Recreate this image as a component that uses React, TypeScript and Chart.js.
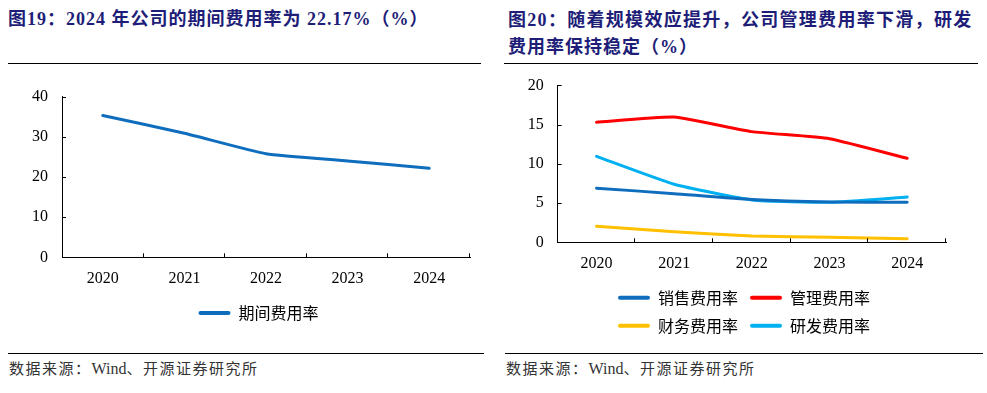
import React, { useEffect, useRef } from 'react';
import { Chart, registerables } from 'chart.js';

Chart.register(...registerables);

// ---------- data ----------
const years = ['2020', '2021', '2022', '2023', '2024'];
const periodExpenseRate = [35.3, 30.9, 25.8, 24.0, 22.17];
const salesExpenseRate = [6.9, 6.2, 5.45, 5.13, 5.1];
const adminExpenseRate = [15.3, 15.96, 14.1, 13.2, 10.7];
const financeExpenseRate = [2.04, 1.35, 0.8, 0.63, 0.46];
const rdExpenseRate = [10.95, 7.4, 5.4, 5.1, 5.77];

const leftTitle = '图19：2024 年公司的期间费用率为 22.17%（%）';
const rightTitleLine1 = '图20：随着规模效应提升，公司管理费用率下滑，研发';
const rightTitleLine2 = '费用率保持稳定（%）';
const sourcePrefix = '数据来源：';
const sourceWind = 'Wind';
const sourceSuffix = '、开源证券研究所';

const leftSeriesName = '期间费用率';
const rightSeriesNames = ['销售费用率', '管理费用率', '财务费用率', '研发费用率'];
const rightColors = ['#0F6DBE', '#FF0000', '#FFC000', '#00B0F0'];
const leftColor = '#0F6DBE';

const SERIF = "'Liberation Serif', 'Times New Roman', 'Noto Sans CJK SC', serif";
const CJK = "'Noto Sans CJK SC', 'Liberation Serif', sans-serif";
const TITLE_COLOR = '#1E1E78';

// draws short tick marks pointing into the plot area
const inwardTicks = {
  id: 'inwardTicks',
  afterDraw(chart: any) {
    const ctx = chart.ctx;
    const xs = chart.scales.x;
    const ys = chart.scales.y;
    ctx.save();
    ctx.strokeStyle = '#000';
    ctx.lineWidth = 1;
    ctx.beginPath();
    const n = chart.data.labels.length;
    for (let i = 1; i <= n; i++) {
      const x = Math.round(xs.left + (i * xs.width) / n) - 0.5;
      ctx.moveTo(x, xs.top);
      ctx.lineTo(x, xs.top - 4);
    }
    ys.ticks.forEach((_t: any, i: number) => {
      const y = Math.round(ys.getPixelForTick(i)) + 0.5;
      ctx.moveTo(ys.right, y);
      ctx.lineTo(ys.right + 4, y);
    });
    ctx.stroke();
    ctx.restore();
  },
};

function makeOptions(opts: {
  padding: any;
  yMax: number;
  yStep: number;
  yWidth: number;
  xHeight: number;
}) {
  return {
    responsive: false,
    animation: false as const,
    layout: { padding: opts.padding },
    elements: { point: { radius: 0 } },
    plugins: {
      tooltip: { enabled: false },
      legend: {
        position: 'bottom' as const,
        labels: {
          boxWidth: 32,
          boxHeight: 4,
          padding: 12,
          color: '#000',
          font: { family: CJK, size: 16 },
          generateLabels: (chart: any) =>
            Chart.defaults.plugins.legend.labels
              .generateLabels(chart)
              .map((l: any) => ({ ...l, fillStyle: l.strokeStyle, lineWidth: 0, borderRadius: 2 })),
        },
      },
    },
    scales: {
      x: {
        type: 'category' as const,
        offset: true,
        grid: { display: false, drawTicks: false, offset: true },
        border: { display: true, color: '#000', width: 1 },
        ticks: { color: '#000', padding: 12, font: { family: SERIF, size: 16 }, maxRotation: 0 },
        afterFit: (s: any) => {
          s.height = opts.xHeight;
        },
      },
      y: {
        min: 0,
        max: opts.yMax,
        grid: { display: false, drawTicks: false },
        border: { display: true, color: '#000', width: 1 },
        ticks: {
          stepSize: opts.yStep,
          color: '#000',
          mirror: true,
          crossAlign: 'far' as const,
          padding: -30,
          font: { family: SERIF, size: 16 },
        },
        afterFit: (s: any) => {
          s.width = opts.yWidth;
        },
      },
    },
  };
}

function lineDataset(label: string, data: number[], color: string) {
  return {
    label,
    data,
    borderColor: color,
    backgroundColor: color,
    borderWidth: 3,
    tension: 0.15,
    borderCapStyle: 'round' as const,
    borderJoinStyle: 'round' as const,
    pointRadius: 0,
  };
}

function LeftChart() {
  const ref = useRef<HTMLCanvasElement>(null);
  useEffect(() => {
    const chart = new Chart(ref.current!, {
      type: 'line',
      data: {
        labels: years,
        datasets: [lineDataset(leftSeriesName, periodExpenseRate, leftColor)],
      },
      options: makeOptions({
        padding: { left: 47, right: 20, top: 26.7, bottom: 19 },
        yMax: 40,
        yStep: 10,
        yWidth: 15,
        xHeight: 35.7,
      }) as any,
      plugins: [inwardTicks],
    });
    return () => chart.destroy();
  }, []);
  return (
    <canvas
      ref={ref}
      width={490}
      height={280}
      style={{ position: 'absolute', left: 0, top: 70, width: 490, height: 280 }}
    />
  );
}

function RightChart() {
  const ref = useRef<HTMLCanvasElement>(null);
  useEffect(() => {
    const chart = new Chart(ref.current!, {
      type: 'line',
      data: {
        labels: years,
        datasets: [
          lineDataset(rightSeriesNames[0], salesExpenseRate, rightColors[0]),
          lineDataset(rightSeriesNames[1], adminExpenseRate, rightColors[1]),
          lineDataset(rightSeriesNames[2], financeExpenseRate, rightColors[2]),
          lineDataset(rightSeriesNames[3], rdExpenseRate, rightColors[3]),
        ],
      },
      options: makeOptions({
        padding: { left: 42, right: 41, top: 15.3, bottom: 6.3 },
        yMax: 20,
        yStep: 5,
        yWidth: 15.7,
        xHeight: 35.4,
      }) as any,
      plugins: [inwardTicks],
    });
    return () => chart.destroy();
  }, []);
  return (
    <canvas
      ref={ref}
      width={487}
      height={280}
      style={{ position: 'absolute', left: 500, top: 70, width: 487, height: 280 }}
    />
  );
}

const titleStyle: React.CSSProperties = {
  position: 'absolute',
  fontFamily: SERIF,
  fontWeight: 'bold',
  fontSize: 18,
  lineHeight: '24px',
  letterSpacing: 1,
  color: TITLE_COLOR,
  whiteSpace: 'nowrap',
};

const footStyle: React.CSSProperties = {
  position: 'absolute',
  fontFamily: SERIF,
  fontSize: 15,
  lineHeight: '18px',
  letterSpacing: 1.5,
  color: '#333',
  whiteSpace: 'nowrap',
};

function Rule({ left, top, width }: { left: number; top: number; width: number }) {
  return <div style={{ position: 'absolute', left, top, width, height: 1.5, background: '#000' }} />;
}

function Source({ left }: { left: number }) {
  return (
    <div style={{ ...footStyle, left, top: 360 }}>
      {sourcePrefix}
      <span style={{ letterSpacing: 0, fontSize: 16 }}>{sourceWind}</span>
      {sourceSuffix}
    </div>
  );
}

export default function App() {
  return (
    <div
      style={{
        position: 'absolute',
        left: 0,
        top: 0,
        width: 987,
        height: 393,
        background: '#fff',
        overflow: 'hidden',
      }}
    >
      <div style={{ ...titleStyle, left: 8, top: 7 }}>{leftTitle}</div>
      <div style={{ ...titleStyle, left: 508, top: 8, letterSpacing: 1.3 }}>{rightTitleLine1}</div>
      <div style={{ ...titleStyle, left: 508, top: 35 }}>{rightTitleLine2}</div>
      <Rule left={8} top={62.5} width={473} />
      <Rule left={504} top={62.5} width={474} />
      <LeftChart />
      <RightChart />
      <Rule left={8} top={352.5} width={476} />
      <Rule left={505} top={352.5} width={478} />
      <Source left={9} />
      <Source left={506} />
    </div>
  );
}
